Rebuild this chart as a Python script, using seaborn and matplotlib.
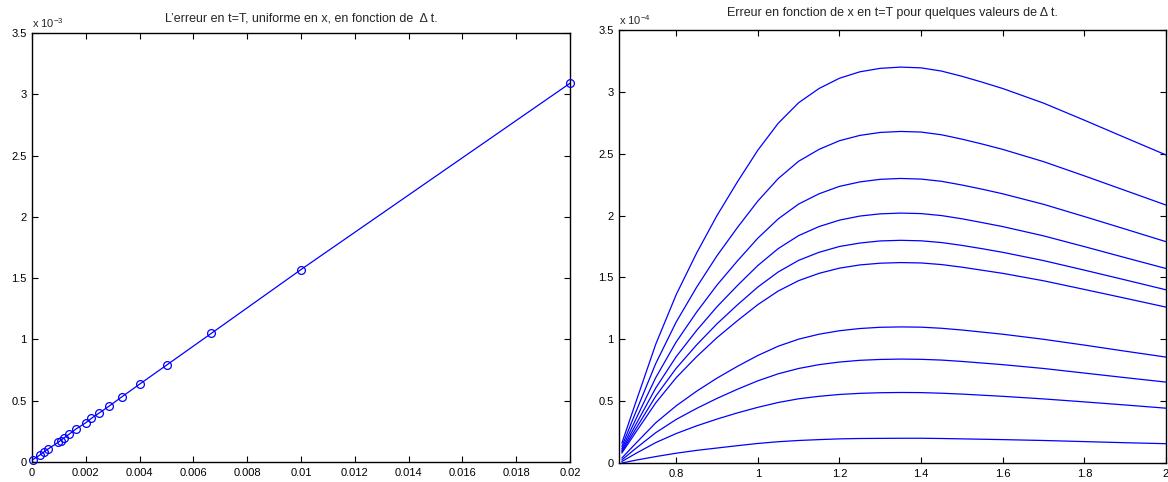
import numpy as np
import pandas as pd
import matplotlib
matplotlib.use("Agg")
import matplotlib.pyplot as plt
import seaborn as sns

# ---------------- data ----------------
# Left panel: time step and uniform error at t=T (error in units of 1e-3)
dt = [0.00004, 0.00028, 0.00043, 0.00059, 0.00097, 0.00106, 0.00118, 0.00137,
      0.00164, 0.0020, 0.0022, 0.0025, 0.00286, 0.00333, 0.004, 0.005,
      0.00667, 0.01, 0.02]
err_e3 = [0.02, 0.055, 0.08, 0.105, 0.16, 0.175, 0.195, 0.225,
          0.27, 0.32, 0.355, 0.40, 0.455, 0.53, 0.635, 0.79,
          1.05, 1.57, 3.09]

# Right panel: error as function of x for several dt (units of 1e-4)
x_vals = [0.667, 0.70, 0.75, 0.80, 0.85, 0.90, 0.95, 1.00, 1.05, 1.10, 1.15, 1.20,
          1.25, 1.30, 1.35, 1.40, 1.45, 1.50, 1.55, 1.60, 1.70, 1.80, 1.90, 2.00]
curve_A = [0.160, 0.480, 0.960, 1.360, 1.696, 2.000, 2.272, 2.528, 2.746, 2.912, 3.027, 3.110,
           3.162, 3.190, 3.200, 3.194, 3.168, 3.126, 3.078, 3.027, 2.909, 2.771, 2.630, 2.490]
curve_B = [0.134, 0.402, 0.804, 1.139, 1.420, 1.675, 1.903, 2.117, 2.299, 2.439, 2.535, 2.605,
           2.648, 2.672, 2.680, 2.675, 2.653, 2.618, 2.578, 2.535, 2.436, 2.321, 2.203, 2.085]
curve_C = [0.115, 0.345, 0.690, 0.978, 1.219, 1.438, 1.633, 1.817, 1.973, 2.093, 2.176, 2.236,
           2.272, 2.293, 2.300, 2.295, 2.277, 2.247, 2.213, 2.176, 2.091, 1.992, 1.891, 1.789]
curve_D = [0.101, 0.303, 0.606, 0.859, 1.071, 1.263, 1.434, 1.596, 1.733, 1.838, 1.911, 1.963,
           1.996, 2.014, 2.020, 2.016, 2.000, 1.974, 1.943, 1.911, 1.836, 1.749, 1.660, 1.572]
curve_E = [0.090, 0.270, 0.540, 0.765, 0.954, 1.125, 1.278, 1.422, 1.544, 1.638, 1.703, 1.750,
           1.778, 1.795, 1.800, 1.796, 1.782, 1.759, 1.732, 1.703, 1.636, 1.559, 1.480, 1.400]
curve_F = [0.081, 0.243, 0.486, 0.689, 0.859, 1.013, 1.150, 1.280, 1.390, 1.474, 1.533, 1.575,
           1.601, 1.615, 1.620, 1.617, 1.604, 1.583, 1.558, 1.533, 1.473, 1.403, 1.332, 1.260]
curve_G = [0.040, 0.155, 0.325, 0.462, 0.580, 0.686, 0.781, 0.869, 0.944, 1.001, 1.041, 1.069,
           1.087, 1.097, 1.100, 1.098, 1.089, 1.075, 1.058, 1.041, 1.000, 0.953, 0.904, 0.856]
curve_H = [0.025, 0.115, 0.245, 0.352, 0.441, 0.522, 0.596, 0.664, 0.721, 0.764, 0.795, 0.816,
           0.830, 0.837, 0.840, 0.838, 0.832, 0.821, 0.808, 0.795, 0.764, 0.727, 0.690, 0.654]
curve_I = [0.012, 0.075, 0.165, 0.238, 0.300, 0.355, 0.405, 0.450, 0.489, 0.519, 0.539, 0.554,
           0.563, 0.568, 0.570, 0.569, 0.564, 0.557, 0.548, 0.539, 0.518, 0.494, 0.469, 0.443]
curve_J = [0.000, 0.022, 0.052, 0.079, 0.102, 0.121, 0.140, 0.158, 0.172, 0.182, 0.189, 0.195,
           0.198, 0.199, 0.200, 0.200, 0.198, 0.195, 0.192, 0.189, 0.182, 0.173, 0.164, 0.156]

left_xticks = [0, 0.002, 0.004, 0.006, 0.008, 0.01, 0.012, 0.014, 0.016, 0.018, 0.02]
left_yticks = [0, 0.5, 1, 1.5, 2, 2.5, 3, 3.5]
right_xticks = [0.8, 1, 1.2, 1.4, 1.6, 1.8, 2]
right_yticks = [0, 0.5, 1, 1.5, 2, 2.5, 3, 3.5]

title_left = "L\u2019erreur en t=T, uniforme en x, en fonction de  \u0394 t."
title_right = "Erreur en fonction de x en t=T pour quelques valeurs de \u0394 t."

# ---------------- style ----------------
sns.set_style("ticks")
plt.rcParams['font.family'] = ['Liberation Sans', 'DejaVu Sans']
plt.rcParams['mathtext.fontset'] = 'custom'
plt.rcParams['mathtext.rm'] = 'Liberation Sans'
plt.rcParams['mathtext.it'] = 'Liberation Sans'

BLUE = (0, 0, 1)
W, H = 1168, 482
fig = plt.figure(figsize=(W / 100, H / 100), dpi=100)

ax1 = fig.add_axes([32 / W, 1 - 462 / H, (570 - 32) / W, (462 - 33) / H])
ax2 = fig.add_axes([619 / W, 1 - 463 / H, (1166 - 619) / W, (463 - 30) / H])

# Left panel
df_left = pd.DataFrame({"dt": dt, "err": err_e3})
sns.lineplot(data=df_left, x="dt", y="err", ax=ax1, color=BLUE, lw=0.9,
             marker="o", markersize=5.6, markerfacecolor="none",
             markeredgecolor=BLUE, markeredgewidth=0.9, estimator=None, sort=False,
             clip_on=False, zorder=5)
ax1.set_xlim(0, 0.02)
ax1.set_ylim(0, 3.5)
ax1.set_xticks(left_xticks)
ax1.set_xticklabels([f"{v:g}" for v in left_xticks])
ax1.set_yticks(left_yticks)
ax1.set_yticklabels([f"{v:g}" for v in left_yticks])
ax1.set_title(title_left, fontsize=9, pad=8)
ax1.text(0.0, 1.006, r"x 10$^{-3}$", transform=ax1.transAxes, fontsize=8,
         ha="left", va="bottom")

# Right panel
names = list("ABCDEFGHIJ")
curves = [curve_A, curve_B, curve_C, curve_D, curve_E, curve_F, curve_G, curve_H, curve_I, curve_J]
rows = []
for n, c in zip(names, curves):
    for xv, yv in zip(x_vals, c):
        rows.append({"x": xv, "err": yv, "curve": n})
df_right = pd.DataFrame(rows)
sns.lineplot(data=df_right, x="x", y="err", units="curve", estimator=None,
             ax=ax2, color=BLUE, lw=0.9, sort=False)
ax2.set_xlim(0.66, 2)
ax2.set_ylim(0, 3.5)
ax2.set_xticks(right_xticks)
ax2.set_xticklabels([f"{v:g}" for v in right_xticks])
ax2.set_yticks(right_yticks)
ax2.set_yticklabels([f"{v:g}" for v in right_yticks])
ax2.set_title(title_right, fontsize=9, pad=10)
ax2.text(0.0, 1.006, r"x 10$^{-4}$", transform=ax2.transAxes, fontsize=8,
         ha="left", va="bottom")

for ax in (ax1, ax2):
    ax.set_xlabel("")
    ax.set_ylabel("")
    for s in ax.spines.values():
        s.set_visible(True)
        s.set_linewidth(1.0)
        s.set_color("black")
    ax.tick_params(direction="in", top=True, right=True, length=4, width=0.8,
                   labelsize=8, pad=4, colors="black")

fig.savefig("out.png", dpi=100)
